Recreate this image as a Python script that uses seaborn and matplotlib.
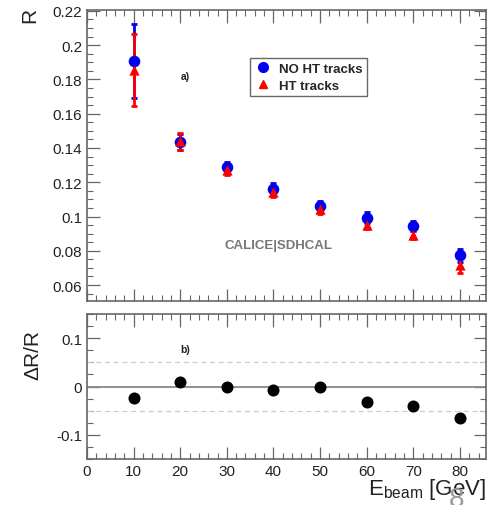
import numpy as np
import pandas as pd
import matplotlib
matplotlib.use("Agg")
import matplotlib.pyplot as plt
from matplotlib.ticker import MultipleLocator
from matplotlib.lines import Line2D
import seaborn as sns

sns.set_theme(style="white")
plt.rcParams['font.family'] = ['Liberation Sans', 'DejaVu Sans']
plt.rcParams['mathtext.fontset'] = 'custom'
plt.rcParams['mathtext.rm'] = 'Liberation Sans'
plt.rcParams['mathtext.it'] = 'Liberation Sans'

energy = [10, 20, 30, 40, 50, 60, 70, 80]
r_no_ht = [0.1907, 0.1435, 0.1287, 0.1163, 0.1062, 0.0994, 0.0946, 0.0773]
r_no_ht_err = [0.0215, 0.0045, 0.0030, 0.0030, 0.0030, 0.0030, 0.0030, 0.0040]
r_ht = [0.1857, 0.1440, 0.1274, 0.1144, 0.1045, 0.0950, 0.0893, 0.0715]
r_ht_err = [0.0210, 0.0050, 0.0030, 0.0030, 0.0030, 0.0025, 0.0025, 0.0045]
delta_r = [-0.024, 0.010, 0.000, -0.007, -0.002, -0.033, -0.041, -0.065]

df = pd.DataFrame({"E": energy, "no_ht": r_no_ht, "no_ht_err": r_no_ht_err,
                   "ht": r_ht, "ht_err": r_ht_err, "dr": delta_r})

W, H = 496, 506
fig = plt.figure(figsize=(W / 100, H / 100), dpi=100)
ax1 = fig.add_axes([87 / W, 1 - 302 / H, 399 / W, 291 / H])
ax2 = fig.add_axes([87 / W, 1 - 460 / H, 399 / W, 145 / H])

frame_col = '#666666'
for ax in (ax1, ax2):
    ax.set_xlim(0, 85.6)
    ax.xaxis.set_major_locator(MultipleLocator(10))
    ax.xaxis.set_minor_locator(MultipleLocator(2))
    ax.tick_params(which='both', direction='in', top=True, right=True,
                   bottom=True, left=True, color=frame_col, labelsize=11,
                   labelcolor='#222222')
    ax.tick_params(which='major', length=9, width=0.9)
    ax.tick_params(which='minor', length=4.5, width=0.8)
    for s in ax.spines.values():
        s.set_color(frame_col)
        s.set_linewidth(1.2)
    ax.grid(False)

# Top panel
ax1.set_ylim(0.0507, 0.2205)
ax1.yaxis.set_major_locator(MultipleLocator(0.02))
ax1.yaxis.set_minor_locator(MultipleLocator(0.005))
ax1.set_yticks([0.06, 0.08, 0.1, 0.12, 0.14, 0.16, 0.18, 0.2, 0.22])
ax1.set_yticklabels(['0.06', '0.08', '0.1', '0.12', '0.14', '0.16', '0.18', '0.2', '0.22'])
ax1.tick_params(labelbottom=False)

ax1.errorbar(df["E"], df["no_ht"], yerr=df["no_ht_err"], fmt='none',
             ecolor='#0000ee', elinewidth=2, capsize=2, capthick=2, zorder=2)
ax1.errorbar(df["E"], df["ht"], yerr=df["ht_err"], fmt='none',
             ecolor='#ff0000', elinewidth=2, capsize=2, capthick=2, zorder=3)
sns.scatterplot(data=df, x="E", y="no_ht", ax=ax1, marker='o', s=70,
                color='#0000ee', edgecolor='#0000ee', linewidth=0, zorder=4)
sns.scatterplot(data=df, x="E", y="ht", ax=ax1, marker='^', s=55,
                color='#ff0000', edgecolor='#ff0000', linewidth=0, zorder=5)
ax1.set_xlabel('')
ax1.set_ylabel('')

handles = [Line2D([], [], marker='o', color='#0000ee', linestyle='none', markersize=7),
           Line2D([], [], marker='^', color='#ff0000', linestyle='none', markersize=6)]
leg = ax1.legend(handles, ['NO HT tracks', 'HT tracks'], loc='upper left',
                 bbox_to_anchor=(0.409, 0.835), frameon=True, fancybox=False,
                 prop={'weight': 'bold', 'size': 9.5}, handletextpad=0.6,
                 borderpad=0.35, labelspacing=0.35, handlelength=1.2,
                 borderaxespad=0)
leg.get_frame().set_edgecolor('#444444')
leg.get_frame().set_linewidth(1.0)

ax1.text(0.246, 0.773, 'a)', transform=ax1.transAxes, fontsize=7.5,
         fontweight='bold', ha='center', va='center', color='#222222')
ax1.text(0.479, 0.192, 'CALICE|SDHCAL', transform=ax1.transAxes, fontsize=9.5,
         fontweight='bold', ha='center', va='center', color='#777777')

# Bottom panel
ax2.set_ylim(-0.15, 0.15)
ax2.set_yticks([-0.1, 0, 0.1])
ax2.set_yticklabels(['-0.1', '0', '0.1'])
ax2.yaxis.set_minor_locator(MultipleLocator(0.025))
ax2.set_xticks([0, 10, 20, 30, 40, 50, 60, 70, 80])
ax2.axhline(0, color='#888888', lw=1.3, zorder=1)
ax2.axhline(0.05, color='#cccccc', lw=0.9, ls='--', dashes=(4, 3), zorder=1)
ax2.axhline(-0.05, color='#cccccc', lw=0.9, ls='--', dashes=(4, 3), zorder=1)
sns.scatterplot(data=df, x="E", y="dr", ax=ax2, marker='o', s=75,
                color='black', edgecolor='black', linewidth=0, zorder=4)
ax2.set_xlabel('')
ax2.set_ylabel('')
ax2.text(0.246, 0.759, 'b)', transform=ax2.transAxes, fontsize=7.5,
         fontweight='bold', ha='center', va='center', color='#222222')

# Axis titles
fig.text(30 / W, 1 - 15 / H, 'R', rotation=90, fontsize=15, ha='center',
         va='center', color='#222222')
fig.text(33 / W, 1 - 355 / H, 'ΔR/R', rotation=90, fontsize=15, ha='center',
         va='center', color='#222222')
fig.text(486 / W, 1 - 490 / H, r'E$_{\mathrm{beam}}$ [GeV]', fontsize=16,
         ha='right', va='center', color='#222222')
fig.text(456 / W, 1 - 500 / H, '8', fontsize=20, ha='center', va='center',
         color='#999999')

fig.savefig('out.png', dpi=100)
